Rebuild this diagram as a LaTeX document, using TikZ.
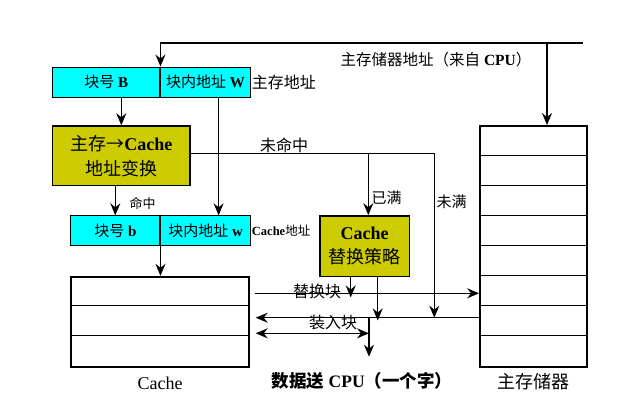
\documentclass[tikz,border=0pt]{standalone}
\usepackage{fontspec}
\setmainfont{Liberation Serif}
\newfontfamily\cjk{Noto Sans CJK SC}
\usetikzlibrary{arrows.meta}
\definecolor{blkcyan}{RGB}{0,255,255}
\definecolor{mapyellow}{RGB}{204,204,0}
\newcommand{\fsz}[2]{\fontsize{#1}{#2}\selectfont}
\tikzset{
  tip/.tip={Stealth[length=12pt,width=10pt,inset=4pt]},
  arr/.style={line width=1.3pt,-tip},
  arrs/.style={line width=1.3pt,tip-tip},
  wire/.style={line width=1pt},
  addrbox/.style={draw,fill=blkcyan,line width=1pt,minimum height=30pt,inner sep=0pt,font=\fsz{15}{18}},
  unitbox/.style={draw,fill=mapyellow,line width=1.6pt,align=center,inner sep=0pt},
  store/.style={draw,line width=1.8pt,inner sep=0pt},
  tag/.style={inner sep=1pt,font=\fsz{16}{19}}
}
\begin{document}
\begin{tikzpicture}[x=1pt,y=-1pt]
\useasboundingbox (0,0) rectangle (626,408);
% address from the CPU
\coordinate (cpu) at (583,43);
\coordinate (memtap) at (547,43);
\node[tag,font=\fsz{15.5}{18}] (cpulab) at (436,60) {{\cjk 主存储器地址（来自} \textbf{CPU}{\cjk ）}};
% main memory address
\node[addrbox,minimum width=107.3pt] (blkB) at (106.3,82) {{\cjk 块号} \textbf{B}};
\node[addrbox,minimum width=89.3pt,anchor=west] (offW) at (blkB.east) {{\cjk 块内地址} \textbf{W}};
\node[tag,anchor=west] (mlab) at (offW.east) {\cjk 主存地址};
% address mapping
\node[unitbox,minimum width=137.3pt,minimum height=59.3pt,font=\fsz{18}{25}] (conv) at (121.3,155.7)
  {{\cjk 主存→}\textbf{Cache}\\{\cjk 地址变换}};
% cache address
\node[addrbox,minimum width=89.3pt] (blkb) at (115.3,230.8) {{\cjk 块号} \textbf{b}};
\node[addrbox,minimum width=89.3pt,anchor=west] (offw) at (blkb.east) {{\cjk 块内地址} \textbf{w}};
\node[tag,anchor=west,font=\fsz{12.5}{14}] (clab) at (offw.east) {\textbf{Cache}{\cjk 地址}};
% cache
\node[store,minimum width=178.6pt,minimum height=90pt] (cache) at (160,321.7) {};
\foreach \r in {30,60}
  \draw[wire] (cache.north west) ++(0,\r) -- ++(178.6,0);
\node[tag,font=\fsz{18}{20}] (cachelab) at (160,383) {Cache};
% main memory
\node[store,minimum width=107.3pt,minimum height=240.7pt] (mem) at (533.7,246.3) {};
\foreach \r in {30,60,...,210}
  \draw[wire] (mem.north west) ++(0,\r) -- ++(107.3,0);
\node[tag,font=\fsz{18}{20}] (memlab) at (533,382) {\cjk 主存储器};
% replacement
\node[unitbox,minimum width=89.3pt,minimum height=60.7pt,font=\fsz{18}{24}] (repl) at (364.7,246.3)
  {\textbf{Cache}\\{\cjk 替换策略}};
% connectors
\draw[arr] (cpu) -| (blkB.north east);
\draw[arr] (memtap) -- (memtap |- mem.north);
\draw[arr] (blkB.south -| conv.north) -- (conv.north);
\draw[arr] ([xshift=13pt]offW.south) -- ([xshift=13pt]offw.north);
\draw[arr] (conv.south -| blkb.north) -- (blkb.north);
\node[tag,font=\fsz{13}{15}] (hitlab) at (142.7,203) {\cjk 命中};
\draw[arr] (offw.south west) -- (cache.north -| offw.south west);
% miss
\coordinate (miss) at (434.3,153);
\coordinate (full) at (368.3,153);
\coordinate (rep) at (255,293.3);
\coordinate (load) at (255.7,317.7);
\coordinate (word) at (369,317.7);
\coordinate (back) at (255.7,333.3);
\draw[wire] (conv.east |- miss) -- (miss);
\node[tag] (misslab) at (284,145) {\cjk 未命中};
\draw[arr] (full) -- (full |- repl.north);
\node[tag,font=\fsz{15}{18}] (fulllab) at (386.7,198) {\cjk 已满};
\draw[arr] (miss) -- (miss |- load);
\node[tag,font=\fsz{15}{18}] (nflab) at (451.7,201.7) {\cjk 未满};
% replace and load
\draw[arr] (rep) -- (rep -| mem.west);
\node[tag] (replab) at (317,291) {\cjk 替换块};
\draw[arr] ([xshift=-14pt]repl.south) -- ++(0,20);
\draw[arr] ([xshift=13pt]repl.south) -- ++(0,43);
\draw[arr] (mem.west |- load) -- (load);
\node[tag] (loadlab) at (333,322) {\cjk 装入块};
\draw[arr] (word) -- ++(0,39);
\draw[arrs] (back) -- (back -| word);
\node[tag,font=\fsz{17.5}{20}\bfseries] (cpuword) at (362,381) {{\cjk 数据送} CPU{\cjk （一个字）}};
\end{tikzpicture}
\end{document}
